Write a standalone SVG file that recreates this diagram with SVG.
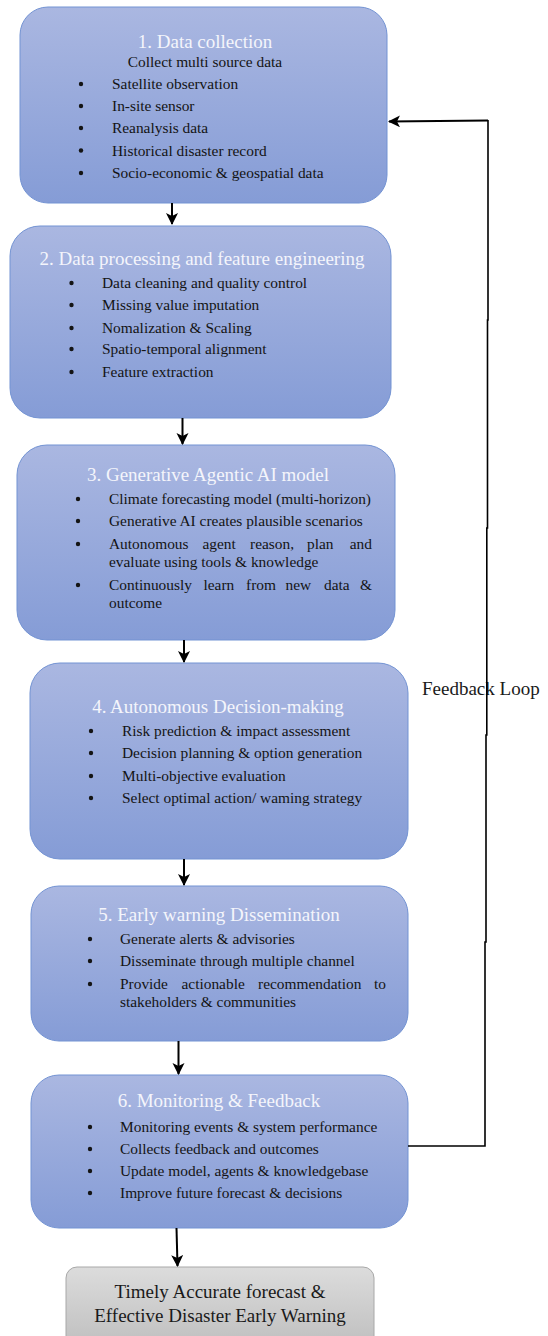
<svg xmlns="http://www.w3.org/2000/svg" width="548" height="1336" viewBox="0 0 548 1336">
<style>
.box{fill:url(#blue);stroke:#7393d3;stroke-width:1}
.grey{fill:url(#grey);stroke:#a8a8a8;stroke-width:1}
.title{font-family:"Liberation Serif","Times New Roman",serif;font-size:19px;fill:#f4f5fb;text-anchor:middle}
.body{font-family:"Liberation Serif","Times New Roman",serif;font-size:15.4px;fill:#141414}
.bul{fill:#141414}
.fin{font-family:"Liberation Serif","Times New Roman",serif;font-size:19px;fill:#1a1a1a;text-anchor:middle}
.lbl{font-family:"Liberation Serif","Times New Roman",serif;font-size:19px;fill:#1a1a1a}
.arr{fill:none;stroke:#000;stroke-width:2;marker-end:url(#ah)}
.fb{fill:none;stroke:#000;stroke-width:1.6}
</style>
<defs>
<linearGradient id="blue" x1="0" y1="0" x2="0" y2="1">
<stop offset="0" stop-color="#aab7e1"/>
<stop offset="1" stop-color="#859cd6"/>
</linearGradient>
<linearGradient id="grey" x1="0" y1="0" x2="0" y2="1">
<stop offset="0" stop-color="#dcdcdc"/>
<stop offset="1" stop-color="#bfbfbf"/>
</linearGradient>
<marker id="ah" markerUnits="userSpaceOnUse" markerWidth="14" markerHeight="14" refX="11" refY="6" orient="auto">
<path d="M0,0 L12,6 L0,12 L3,6 Z" fill="#000"/>
</marker>
</defs>

<g id="node1">
<rect class="box" x="20" y="7" width="367" height="196" rx="28"/>
<text class="title" x="205" y="48">1. Data collection</text>
<text class="body" x="205" y="67" text-anchor="middle">Collect multi source data</text>
<circle class="bul" cx="81" cy="84" r="2.2"/><text class="body" x="112" y="89">Satellite observation</text>
<circle class="bul" cx="81" cy="106" r="2.2"/><text class="body" x="112" y="111">In-site sensor</text>
<circle class="bul" cx="81" cy="128" r="2.2"/><text class="body" x="112" y="133">Reanalysis data</text>
<circle class="bul" cx="81" cy="150.5" r="2.2"/><text class="body" x="112" y="155.5">Historical disaster record</text>
<circle class="bul" cx="81" cy="173" r="2.2"/><text class="body" x="112" y="178">Socio-economic &amp; geospatial data</text>
</g>

<g id="node2">
<rect class="box" x="10" y="226" width="381" height="192" rx="30"/>
<text class="title" x="202" y="265">2. Data processing and feature engineering</text>
<circle class="bul" cx="71.5" cy="283" r="2.2"/><text class="body" x="102" y="288">Data cleaning and quality control</text>
<circle class="bul" cx="71.5" cy="305" r="2.2"/><text class="body" x="102" y="310">Missing value imputation</text>
<circle class="bul" cx="71.5" cy="328" r="2.2"/><text class="body" x="102" y="333">Nomalization &amp; Scaling</text>
<circle class="bul" cx="71.5" cy="349" r="2.2"/><text class="body" x="102" y="354">Spatio-temporal alignment</text>
<circle class="bul" cx="71.5" cy="372" r="2.2"/><text class="body" x="102" y="377">Feature extraction</text>
</g>

<g id="node3">
<rect class="box" x="17" y="445" width="378" height="195" rx="30"/>
<text class="title" x="208" y="481">3. Generative Agentic AI model</text>
<circle class="bul" cx="78" cy="499" r="2.2"/><text class="body" x="109" y="504">Climate forecasting model (multi-horizon)</text>
<circle class="bul" cx="78" cy="521" r="2.2"/><text class="body" x="109" y="526">Generative AI creates plausible scenarios</text>
<circle class="bul" cx="78" cy="544" r="2.2"/>
<text class="body" x="109" y="549">Autonomous</text><text class="body" x="202.5" y="549">agent</text><text class="body" x="250" y="549">reason,</text><text class="body" x="307" y="549">plan</text><text class="body" x="372" y="549" text-anchor="end">and</text>
<text class="body" x="109" y="567">evaluate using tools &amp; knowledge</text>
<circle class="bul" cx="78" cy="585" r="2.2"/>
<text class="body" x="109" y="590">Continuously</text><text class="body" x="203.5" y="590">learn</text><text class="body" x="246" y="590">from</text><text class="body" x="285.5" y="590">new</text><text class="body" x="324" y="590">data</text><text class="body" x="372" y="590" text-anchor="end">&amp;</text>
<text class="body" x="109" y="608">outcome</text>
</g>

<g id="node4">
<rect class="box" x="30" y="663" width="378" height="196" rx="30"/>
<text class="title" x="218" y="713">4. Autonomous Decision-making</text>
<circle class="bul" cx="91" cy="731" r="2.2"/><text class="body" x="122" y="736">Risk prediction &amp; impact assessment</text>
<circle class="bul" cx="91" cy="753" r="2.2"/><text class="body" x="122" y="758">Decision planning &amp; option generation</text>
<circle class="bul" cx="91" cy="776" r="2.2"/><text class="body" x="122" y="781">Multi-objective evaluation</text>
<circle class="bul" cx="91" cy="798" r="2.2"/><text class="body" x="122" y="803">Select optimal action/ waming strategy</text>
</g>

<g id="node5">
<rect class="box" x="31" y="886" width="377" height="155" rx="28"/>
<text class="title" x="219" y="921">5. Early warning Dissemination</text>
<circle class="bul" cx="90" cy="939" r="2.2"/><text class="body" x="120" y="944">Generate alerts &amp; advisories</text>
<circle class="bul" cx="90" cy="961" r="2.2"/><text class="body" x="120" y="966">Disseminate through multiple channel</text>
<circle class="bul" cx="90" cy="984" r="2.2"/>
<text class="body" x="120" y="989">Provide</text><text class="body" x="181.5" y="989">actionable</text><text class="body" x="258" y="989">recommendation</text><text class="body" x="386" y="989" text-anchor="end">to</text>
<text class="body" x="120" y="1007">stakeholders &amp; communities</text>
</g>

<g id="node6">
<rect class="box" x="31" y="1075" width="377" height="153" rx="28"/>
<text class="title" x="219" y="1107">6. Monitoring &amp; Feedback</text>
<circle class="bul" cx="90" cy="1127" r="2.2"/><text class="body" x="120" y="1132">Monitoring events &amp; system performance</text>
<circle class="bul" cx="90" cy="1149" r="2.2"/><text class="body" x="120" y="1154">Collects feedback and outcomes</text>
<circle class="bul" cx="90" cy="1171" r="2.2"/><text class="body" x="120" y="1176">Update model, agents &amp; knowledgebase</text>
<circle class="bul" cx="90" cy="1193" r="2.2"/><text class="body" x="120" y="1198">Improve future forecast &amp; decisions</text>
</g>

<g id="node7">
<rect class="grey" x="66" y="1267" width="308" height="80" rx="11"/>
<text class="fin" x="220" y="1298">Timely Accurate forecast &amp;</text>
<text class="fin" x="220" y="1322">Effective Disaster Early Warning</text>
</g>

<text id="feedback-label" class="lbl" x="422" y="695">Feedback Loop</text>

<g id="connectors">
<path class="arr" d="M172,203 L172,224"/>
<path class="arr" d="M182.5,418 L182.5,444"/>
<path class="arr" d="M184,640 L184,662"/>
<path class="arr" d="M184,859 L184,885"/>
<path class="arr" d="M178.5,1041 L178.5,1074"/>
<path class="arr" d="M176.5,1228 L177.5,1266"/>
<path class="fb" d="M408,1146 L485,1146 L485,942 L486,942 L486,735 L486.8,735 L486.8,528 L487.5,528 L487.5,320 L488,320 L488,120"/>
<path class="arr" d="M488,120.5 L389,121.5"/>
</g>
</svg>
